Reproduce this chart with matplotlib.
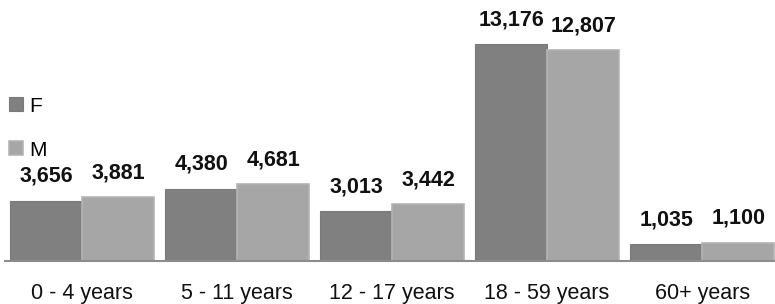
import matplotlib.pyplot as plt
import numpy as np

# age groups and counts
groups = ["0 - 4 years", "5 - 11 years", "12 - 17 years", "18 - 59 years", "60+ years"]
female = [3656, 4380, 3013, 13176, 1035]
male = [3881, 4681, 3442, 12807, 1100]

plt.rcParams['font.family'] = ['Liberation Sans', 'DejaVu Sans']

fig = plt.figure(figsize=(7.75, 3.04), dpi=100)
ax = fig.add_axes([5/775, 43/304, 770/775, 261/304])

x = np.arange(len(groups))
w = 0.465
bf = ax.bar(x - w/2, female, w, color='#808080', edgecolor='#7a7a7a', linewidth=0.8, label='F')
bm = ax.bar(x + w/2, male, w, color='#a6a6a6', edgecolor='#b4b4b4', linewidth=1.2, label='M')

for bars in (bf, bm):
    for b in bars:
        ax.annotate(f"{int(b.get_height()):,}", (b.get_x() + b.get_width()/2, b.get_height()),
                    xytext=(0, 10), textcoords='offset points', ha='center', va='bottom',
                    fontsize=15.5, fontweight='bold', color='#111111')

ax.set_xlim(-0.497, 4.47)
ax.set_ylim(0, 15848)
ax.set_xticks(x)
ax.set_xticklabels(groups, fontsize=15.5, color='#111111')
ax.tick_params(axis='x', length=0, pad=16)
ax.set_yticks([])
for s in ['top', 'right', 'left']:
    ax.spines[s].set_visible(False)
ax.spines['bottom'].set_color('#8c8c8c')
ax.spines['bottom'].set_linewidth(1.5)

fig.legend(handles=[bf, bm], loc='upper left', bbox_to_anchor=(-0.007, 0.73), frameon=False,
           fontsize=15, handlelength=0.65, handleheight=0.65, handletextpad=0.3,
           labelspacing=1.2, borderaxespad=0.3)

fig.savefig('out.png', dpi=100)
